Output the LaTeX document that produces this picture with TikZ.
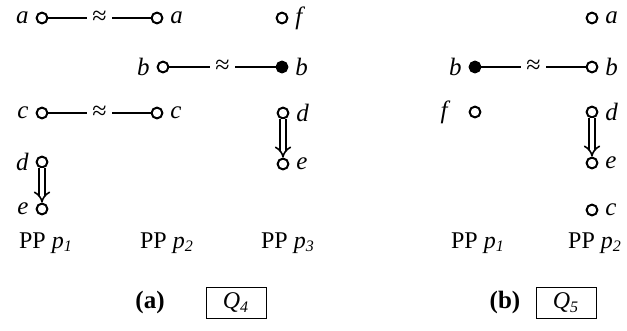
\documentclass[tikz,border=0pt]{standalone}
\usepackage{fontspec}
\setmainfont{Liberation Serif}
\usetikzlibrary{arrows.meta}
\tikzset{
  pt/.style={circle,draw,line width=1pt,minimum size=5.4pt,inner sep=0pt,label distance=4pt},
  ptf/.style={pt,fill=black},
  lab/.style={font=\fontsize{12.5}{14}\selectfont\itshape},
  eqv/.style={line width=0.9pt},
  apx/.style={fill=white,inner sep=2.5pt,font=\fontsize{13}{14}\selectfont},
  impl/.style={double,double distance=2pt,line width=0.8pt,-{Implies}},
  qbox/.style={draw,line width=0.5pt,minimum width=30pt,minimum height=15.5pt,inner sep=0pt},
}
\begin{document}
\begin{tikzpicture}[x=0.5pt,y=-0.5pt,font=\fontsize{12}{14}\selectfont]
  \useasboundingbox (0,0) rectangle (627,331);
  % (a) Q4
  \node[pt,label={[lab]left:a}] (La1) at (42,18) {};
  \node[pt,label={[lab]right:a}] (La2) at (157,18) {};
  \node[pt,label={[lab]right:f}] (Lf3) at (282,18) {};
  \node[pt,label={[lab]left:b}] (Lb2) at (163,67) {};
  \node[ptf,label={[lab]right:b}] (Lb3) at (282,67) {};
  \node[pt,label={[lab]left:c}] (Lc1) at (42,113) {};
  \node[pt,label={[lab]right:c}] (Lc2) at (157,113) {};
  \node[pt,label={[lab]right:d}] (Ld3) at (283,113) {};
  \node[pt,label={[lab]right:e}] (Le3) at (283,164) {};
  \node[pt,label={[lab]left:d}] (Ld1) at (42,162) {};
  \node[pt,label={[lab]left:e}] (Le1) at (42,209) {};
  \draw[eqv] (La1) -- node[apx] {≈} (La2);
  \draw[eqv] (Lb2) -- node[apx] {≈} (Lb3);
  \draw[eqv] (Lc1) -- node[apx] {≈} (Lc2);
  \draw[impl] (Ld3) -- (Le3);
  \draw[impl] (Ld1) -- (Le1);
  \node (Lp1) at (46,243) {PP \textit{p}\textsubscript{\textit{1}}};
  \node (Lp2) at (167,243) {PP \textit{p}\textsubscript{\textit{2}}};
  \node (Lp3) at (288,243) {PP \textit{p}\textsubscript{\textit{3}}};
  \node[font=\fontsize{12.5}{14}\selectfont\bfseries] (La) at (150,302) {(a)};
  \node[qbox] (Lq) at (236,303) {\textit{Q}\textsubscript{\textit{4}}};
  % (b) Q5
  \node[pt,label={[lab]right:a}] (Ra2) at (592,18) {};
  \node[ptf,label={[lab]left:b}] (Rb1) at (475,67) {};
  \node[pt,label={[lab]right:b}] (Rb2) at (592,67) {};
  \node[pt,label={[lab,label distance=7pt]left:f}] (Rf1) at (475,112) {};
  \node[pt,label={[lab]right:d}] (Rd2) at (592,112) {};
  \node[pt,label={[lab]right:e}] (Re2) at (592,163) {};
  \node[pt,label={[lab]right:c}] (Rc2) at (592,210) {};
  \draw[eqv] (Rb1) -- node[apx] {≈} (Rb2);
  \draw[impl] (Rd2) -- (Re2);
  \node (Rp1) at (478,243) {PP \textit{p}\textsubscript{\textit{1}}};
  \node (Rp2) at (595,243) {PP \textit{p}\textsubscript{\textit{2}}};
  \node[font=\fontsize{12.5}{14}\selectfont\bfseries] (Rb) at (505,302) {(b)};
  \node[qbox] (Rq) at (566,303) {\textit{Q}\textsubscript{\textit{5}}};
\end{tikzpicture}
\end{document}
